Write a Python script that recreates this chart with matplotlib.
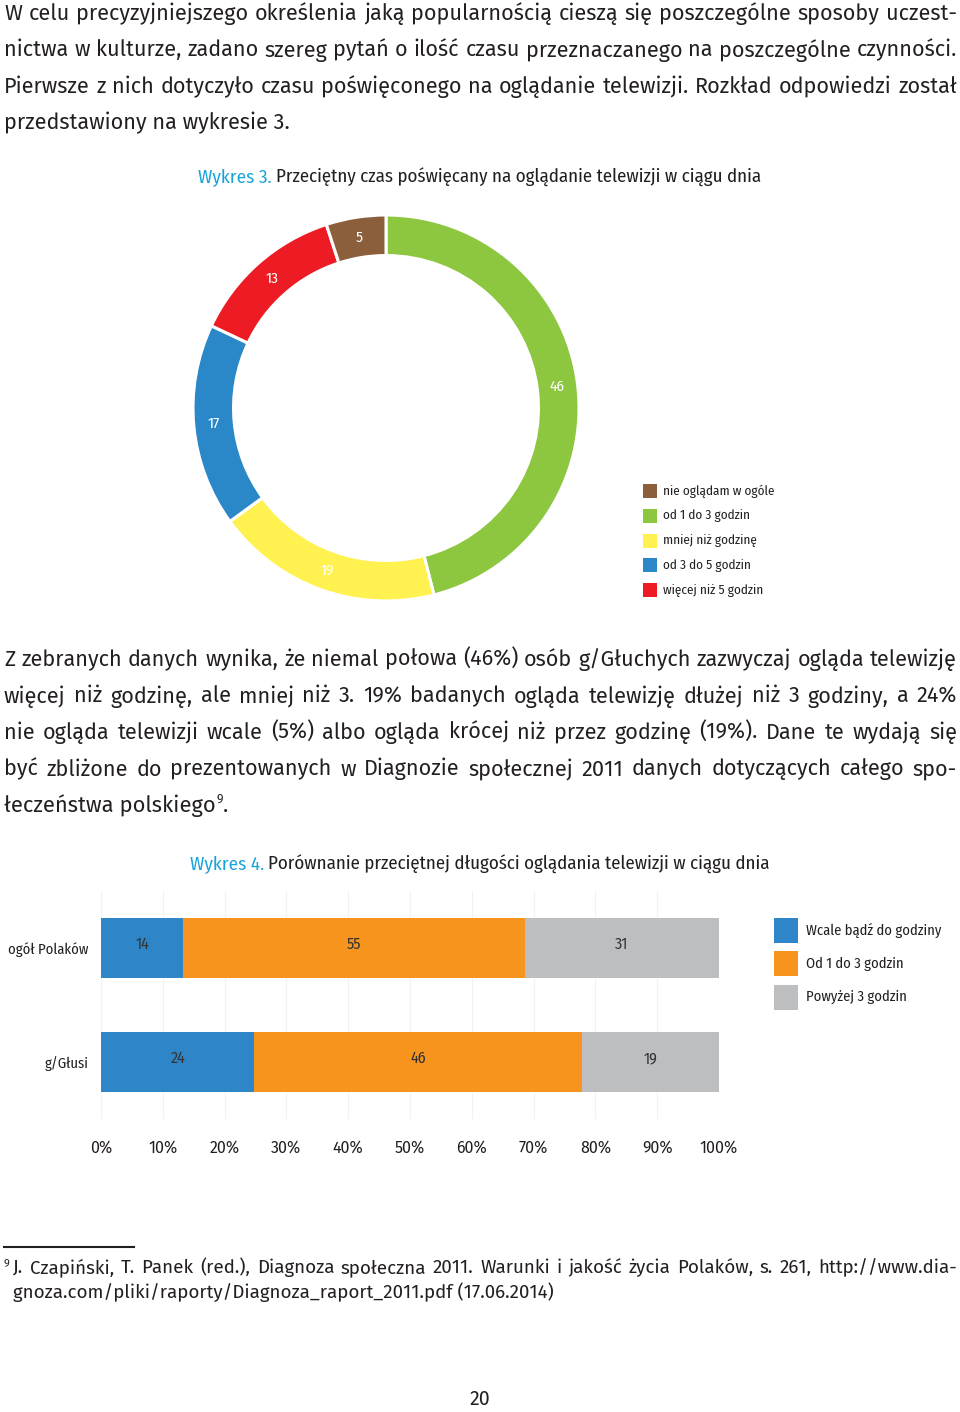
import numpy as np
import matplotlib
matplotlib.use("Agg")
import matplotlib.pyplot as plt
from matplotlib.patches import Rectangle

W, H = 960, 1412
BODY = ["Fira Sans", "DejaVu Sans"]
NARROW = ["Fira Sans Condensed", "DejaVu Sans"]
TXT = "#231f20"
CYAN = "#1aa3d9"

intro_lines = [
    "W celu precyzyjniejszego określenia jaką popularnością cieszą się poszczególne sposoby uczest-",
    "nictwa w kulturze, zadano szereg pytań o ilość czasu przeznaczanego na poszczególne czynności.",
    "Pierwsze z nich dotyczyło czasu poświęconego na oglądanie telewizji. Rozkład odpowiedzi został",
    "przedstawiony na wykresie 3.",
]
summary_lines = [
    "Z zebranych danych wynika, że niemal połowa (46%) osób g/Głuchych zazwyczaj ogląda telewizję",
    "więcej niż godzinę, ale mniej niż 3. 19% badanych ogląda telewizję dłużej niż 3 godziny, a 24%",
    "nie ogląda telewizji wcale (5%) albo ogląda krócej niż przez godzinę (19%). Dane te wydają się",
    "być zbliżone do prezentowanych w Diagnozie społecznej 2011 danych dotyczących całego spo-",
    "łeczeństwa polskiego",
]
footnote_lines = [
    "J. Czapiński, T. Panek (red.), Diagnoza społeczna 2011. Warunki i jakość życia Polaków, s. 261, http://www.dia-",
    "gnoza.com/pliki/raporty/Diagnoza_raport_2011.pdf (17.06.2014)",
]

# Wykres 3 (legend order)
tv_labels = ["nie oglądam w ogóle", "od 1 do 3 godzin", "mniej niż godzinę",
             "od 3 do 5 godzin", "więcej niż 5 godzin"]
tv_values = [5, 46, 19, 17, 13]
tv_colors = ["#8b5e3c", "#8dc63f", "#fff250", "#2a88c9", "#ed1c24"]
ring_order = [1, 2, 3, 4, 0]

# Wykres 4
groups = ["ogół Polaków", "g/Głusi"]
bar_series = ["Wcale bądź do godziny", "Od 1 do 3 godzin", "Powyżej 3 godzin"]
bar_colors = ["#2e86c8", "#f7941d", "#bcbec0"]
bar_widths = [[13.3, 55.3, 31.4], [24.8, 53.0, 22.2]]
bar_labels = [[14, 55, 31], [24, 46, 19]]
pct_ticks = list(range(0, 101, 10))

fig = plt.figure(figsize=(W / 100, H / 100), dpi=100)
page = fig.add_axes([0, 0, 1, 1])
page.set_xlim(0, W)
page.set_ylim(H, 0)
page.axis("off")
renderer = fig.canvas.get_renderer()


def paragraph(lines, y0, step, size, family=BODY, last_justified=False, x0=4, x1=957):
    for i, line in enumerate(lines):
        y = y0 + i * step
        if i == len(lines) - 1 and not last_justified:
            page.text(x0, y, line, fontsize=size, family=family, color=TXT, va="baseline")
            continue
        words = line.split(" ")
        arts = [page.text(0, y, w, fontsize=size, family=family, color=TXT, va="baseline")
                for w in words]
        widths = [a.get_window_extent(renderer).width for a in arts]
        gap = (x1 - x0 - sum(widths)) / (len(words) - 1)
        x = x0
        for a, w in zip(arts, widths):
            a.set_x(x)
            x += w + gap


paragraph(intro_lines, 20, 36.5, 15.6)
paragraph(summary_lines[:-1] + [""], 666, 36.5, 15.6)
yl = 666 + 4 * 36.5
last = page.text(4, yl, summary_lines[-1], fontsize=15.8, family=BODY, color=TXT, va="baseline")
ext = last.get_window_extent(renderer)
page.text(ext.x1 + 1, yl - 9, "9", fontsize=9, family=BODY, color=TXT, va="baseline")
page.text(ext.x1 + 7, yl, ".", fontsize=15.8, family=BODY, color=TXT, va="baseline")

# captions
for x, y, tag, title in [(198, 183, "Wykres 3.", "Przeciętny czas poświęcany na oglądanie telewizji w ciągu dnia"),
                         (190, 870, "Wykres 4.", "Porównanie przeciętnej długości oglądania telewizji w ciągu dnia")]:
    t = page.text(x, y, tag, fontsize=13.8, family=NARROW, color=CYAN, va="baseline")
    e = t.get_window_extent(renderer)
    page.text(e.x1 + 4, y, title, fontsize=13.6, family=NARROW, color=TXT, va="baseline")

# donut
cx, cy, R = 386, 408, 193
dax = fig.add_axes([(cx - 200) / W, 1 - (cy + 200) / H, 400 / W, 400 / H])
vals = [tv_values[i] for i in ring_order]
cols = [tv_colors[i] for i in ring_order]
wedges, _ = dax.pie(vals, colors=cols, startangle=90, counterclock=False, radius=1,
                    wedgeprops=dict(width=0.21, edgecolor="white", linewidth=2.2))
dax.set_xlim(-200 / R, 200 / R)
dax.set_ylim(-200 / R, 200 / R)
dax.set_aspect("equal")
dax.axis("off")
for w, v in zip(wedges, vals):
    ang = np.deg2rad((w.theta1 + w.theta2) / 2)
    dax.text(0.895 * np.cos(ang), 0.895 * np.sin(ang), str(v), ha="center", va="center",
             fontsize=11, family=NARROW, color="white")

# donut legend
for i, (lab, col) in enumerate(zip(tv_labels, tv_colors)):
    y = 491 + i * 24.8
    page.add_patch(Rectangle((643, y - 7), 14, 14, color=col, lw=0))
    page.text(663, y, lab, fontsize=9.5, family=NARROW, color=TXT, va="center")

# stacked bars
bax = fig.add_axes([101 / W, 1 - 1119 / H, 618 / W, 228 / H])
for gi, g in enumerate(groups):
    left = 0
    for si in range(len(bar_series)):
        wdt = bar_widths[gi][si]
        bax.barh(gi, wdt, left=left, height=0.526, color=bar_colors[si], lw=0, zorder=2)
        bax.text(left + wdt / 2, gi - 0.03, str(bar_labels[gi][si]), ha="center", va="center",
                 fontsize=11.5, family=NARROW, color="#333333", zorder=3)
        left += wdt
bax.set_xlim(0, 100)
bax.set_ylim(1.5, -0.5)
bax.set_yticks(range(len(groups)))
bax.set_yticklabels(groups, family=NARROW, fontsize=10.5, color=TXT)
bax.set_xticks(pct_ticks)
bax.set_xticklabels([f"{t}%" for t in pct_ticks], family=BODY, fontsize=11.5, color=TXT)
bax.tick_params(length=0)
bax.tick_params(axis="x", pad=15)
bax.tick_params(axis="y", pad=9)
bax.grid(axis="x", color="#f2f2f2", lw=0.8, zorder=0)
for s in bax.spines.values():
    s.set_visible(False)

for i, (lab, col) in enumerate(zip(bar_series, bar_colors)):
    y = 930 + i * 33.5
    page.add_patch(Rectangle((774, y - 12.5), 24, 25, color=col, lw=0))
    page.text(806, y, lab, fontsize=10.5, family=NARROW, color=TXT, va="center")

# footnote
page.plot([4, 134], [1247, 1247], color=TXT, lw=1.5)
page.text(4, 1266, "9", fontsize=8, family=BODY, color=TXT, va="baseline")
paragraph(footnote_lines, 1273, 25.5, 13.5, x0=13)

page.text(480, 1405, "20", fontsize=14, family=BODY, color=TXT, ha="center", va="baseline")

fig.savefig("out.png", dpi=100)
